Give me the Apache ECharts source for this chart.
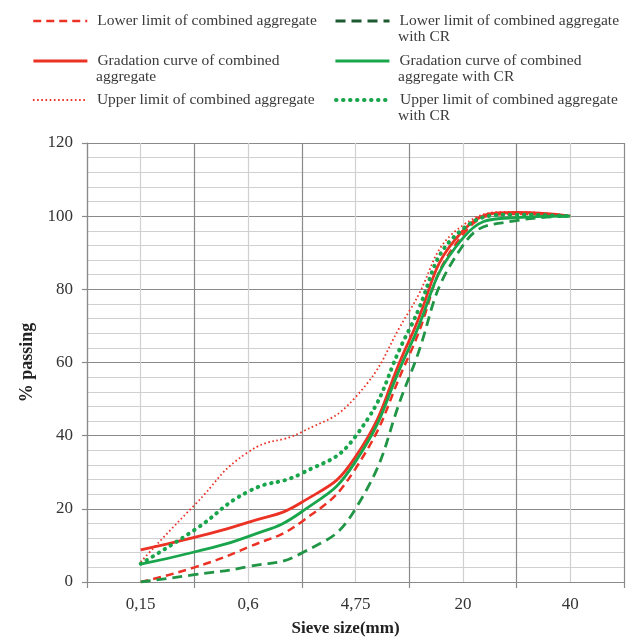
<!DOCTYPE html>
<html>
<head>
<meta charset="utf-8">
<script src="https://cdn.jsdelivr.net/npm/echarts@6/dist/echarts.min.js"></script>
<style>
  html, body { margin: 0; padding: 0; background: #fff; }
  #chart { width: 633px; height: 642px; }
</style>
</head>
<body>
<div id="chart"></div>
<script>
// sieve labels on the axis, and where each measured sieve sits
// (axis runs 0..10, labelled sieves at the odd positions)
var sieveLabels = ['0,15', '0,6', '4,75', '20', '40'];
var sievePos = [1, 2, 3, 4, 5, 6, 7, 8, 9];

// % passing
var lowerLimit = [0, 4.0, 9.5, 16.5, 31, 62, 95, 100.6, 100];
var gradation = [8.8, 12.2, 16.3, 21.8, 34.2, 66, 96, 101, 100];
var upperLimit = [5.5, 21, 35.5, 41, 50.5, 74, 97.5, 101.2, 100];
var lowerLimitCR = [0, 2, 4.2, 7.9, 20, 56, 92, 98.8, 100];
var gradationCR = [4.9, 8.2, 12.4, 19.2, 32.9, 64, 94, 99.6, 100];
var upperLimitCR = [5, 14.2, 24.7, 29.7, 39.8, 69, 96.5, 100.4, 100];

var RED = '#ec3125';
var GREEN = '#19a54b';
var DGREEN = '#1f9545';
var FONT = 'Liberation Serif';

function pts(vals) {
    var out = [];
    for (let i = 0; i < vals.length; i++) {
        out.push([sievePos[i], vals[i]]);
    }
    return out;
}

// first legend line only, the rest is placed as extra text below
var firstLine = {
    'Lower limit of combined aggregate': 'Lower limit of combined aggregate',
    'Gradation curve of combined aggregate': 'Gradation curve of combined',
    'Upper limit of combined aggregate': 'Upper limit of combined aggregate',
    'Lower limit of combined aggregate with CR': 'Lower limit of combined aggregate',
    'Gradation curve of combined aggregate with CR': 'Gradation curve of combined',
    'Upper limit of combined aggregate with CR': 'Upper limit of combined aggregate'
};

function line(name, vals, color, width, type, cap) {
    return {
        name: name,
        type: 'line',
        xAxisIndex: 1,
        data: pts(vals),
        smooth: 0.5,
        symbol: 'none',
        itemStyle: { color: color },
        lineStyle: { color: color, width: width, type: type, cap: cap || 'butt' },
        z: 3
    };
}

function legendAt(name, left, top, lineStyle) {
    return {
        data: [name],
        left: left,
        top: top,
        itemWidth: 54,
        itemHeight: 14,
        padding: 0,
        selectedMode: false,
        itemStyle: { opacity: 0 },
        lineStyle: lineStyle || {},
        formatter: function (n) { return firstLine[n]; },
        textStyle: { fontFamily: FONT, fontSize: 15.5, color: '#3a3a3a', padding: [0, 0, 0, 5] }
    };
}

function extraText(text, left, y) {
    return {
        type: 'text',
        left: left,
        top: y - 9,
        style: { text: text, font: '15.5px "Liberation Serif"', fill: '#3a3a3a' }
    };
}

var myChart = echarts.init(document.getElementById('chart'));
var option = {
    animation: false,
    legend: [
        legendAt('Lower limit of combined aggregate', 32, 13, { width: 2.5 }),
        legendAt('Gradation curve of combined aggregate', 32, 53, { width: 2.8 }),
        legendAt('Upper limit of combined aggregate', 32, 92, { width: 1.8 }),
        legendAt('Lower limit of combined aggregate with CR', 334, 13, { width: 3, color: '#1d5a30' }),
        legendAt('Gradation curve of combined aggregate with CR', 334, 53, { width: 2.8 }),
        legendAt('Upper limit of combined aggregate with CR', 334, 92, { width: 4, cap: 'round', type: [0.5, 6.5] })
    ],
    graphic: [
        extraText('with CR', 398, 38),
        extraText('aggregate', 96, 78),
        extraText('aggregate with CR', 398, 78),
        extraText('with CR', 398, 117)
    ],
    grid: { left: 87, right: 9, top: 143, bottom: 58 },
    xAxis: [
        {
            type: 'category',
            data: sieveLabels,
            boundaryGap: true,
            name: 'Sieve size(mm)',
            nameLocation: 'middle',
            nameGap: 38,
            nameTextStyle: { fontFamily: FONT, fontSize: 17, fontWeight: 'bold', color: '#222', padding: [0, 20, 0, 0] },
            axisLine: { lineStyle: { color: '#8a8a8a', width: 1.2 } },
            axisTick: { show: true, length: 6, lineStyle: { color: '#8a8a8a', width: 1.2 } },
            axisLabel: { margin: 14, fontFamily: FONT, fontSize: 17, color: '#333' },
            splitLine: { show: false }
        },
        {
            type: 'value',
            min: 0,
            max: 10,
            interval: 2,
            position: 'bottom',
            axisLine: { show: false },
            axisTick: { show: false },
            axisLabel: { show: false },
            splitLine: { show: true, lineStyle: { color: '#8a8a8a', width: 1.2 } },
            minorTick: { show: false, splitNumber: 2 },
            minorSplitLine: { show: true, lineStyle: { color: '#d0d0d0', width: 1.2 } }
        }
    ],
    yAxis: {
        type: 'value',
        min: 0,
        max: 120,
        interval: 20,
        name: '% passing',
        nameLocation: 'middle',
        nameGap: 44,
        nameTextStyle: { fontFamily: FONT, fontSize: 18, fontWeight: 'bold', color: '#222' },
        axisLine: { show: true, lineStyle: { color: '#8a8a8a', width: 1.2 } },
        axisTick: { show: true, length: 5, lineStyle: { color: '#8a8a8a', width: 1.2 } },
        axisLabel: { margin: 14, fontFamily: FONT, fontSize: 17, color: '#333' },
        splitLine: { show: true, lineStyle: { color: '#8a8a8a', width: 1.2 } },
        minorTick: { show: false, splitNumber: 5 },
        minorSplitLine: { show: true, lineStyle: { color: '#d0d0d0', width: 1.2 } }
    },
    series: [
        line('Lower limit of combined aggregate', lowerLimit, RED, 2.5, [8, 5]),
        line('Gradation curve of combined aggregate', gradation, RED, 2.8, 'solid'),
        line('Upper limit of combined aggregate', upperLimit, RED, 1.8, [1.6, 2.6]),
        line('Lower limit of combined aggregate with CR', lowerLimitCR, DGREEN, 2.8, [10, 6]),
        line('Gradation curve of combined aggregate with CR', gradationCR, GREEN, 2.8, 'solid'),
        line('Upper limit of combined aggregate with CR', upperLimitCR, GREEN, 4, [0.5, 6.5], 'round')
    ]
};
myChart.setOption(option);
</script>
</body>
</html>
